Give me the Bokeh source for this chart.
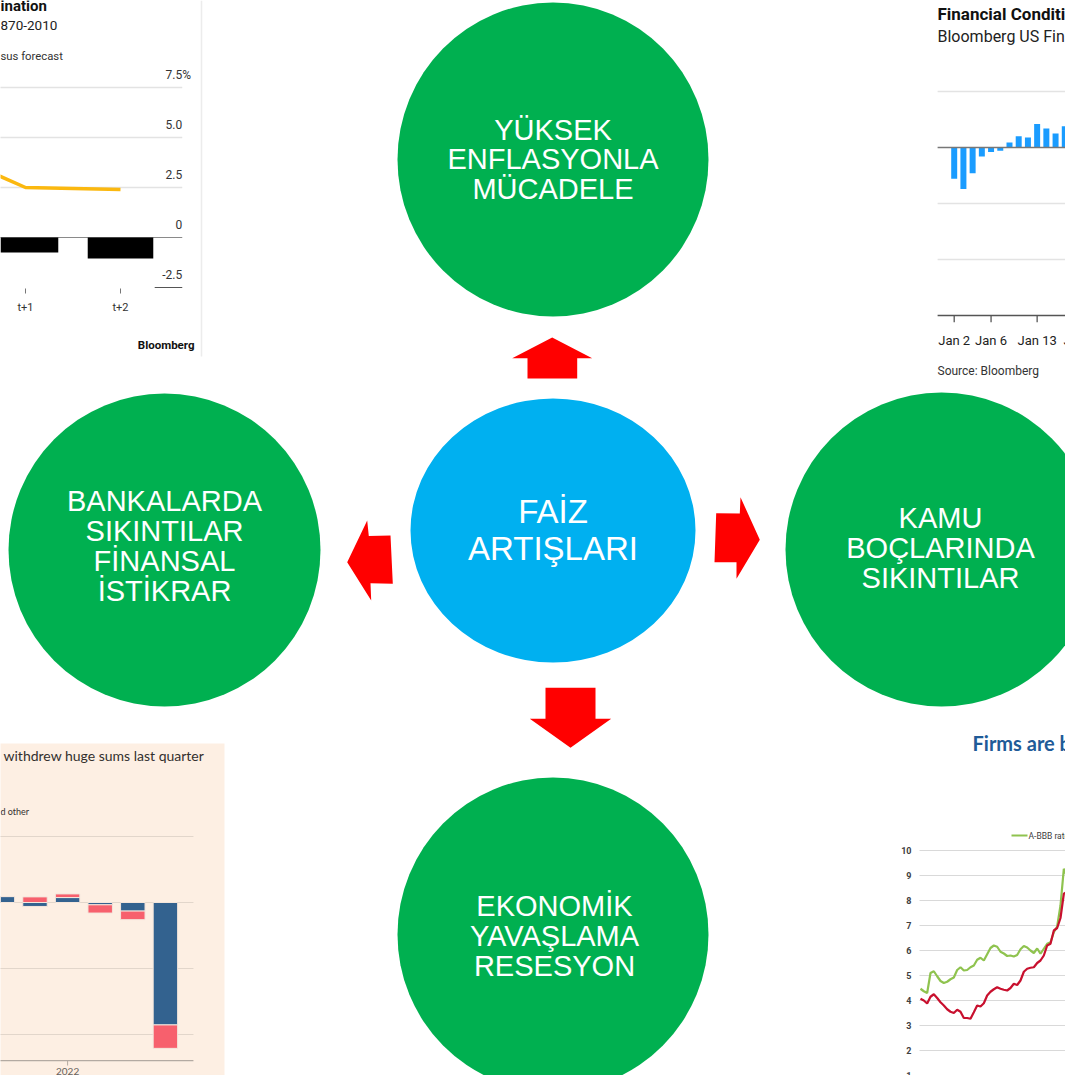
from bokeh.plotting import figure
from bokeh.models import Range1d
from bokeh.core.properties import value
from bokeh.embed import file_html
from bokeh.resources import INLINE

# ------------------------------------------------------------------ data
# top-left fragment (Bloomberg: inflation vs consensus forecast)
tl_periods = [0, 1, 2]
tl_period_labels = ["t", "t+1", "t+2"]
tl_forecast = [4.6, 2.5, 2.4]
tl_bar_periods = [1, 2]
tl_bar_values = [-0.75, -1.05]
tl_grid_values = [7.5, 5.0, 2.5]
tl_tick_values = [7.5, 5.0, 2.5, 0, -2.5]
tl_tick_labels = ["7.5", "5.0", "2.5", "0", "-2.5"]

# top-right fragment (Bloomberg US Financial Conditions)
tr_days = list(range(15))
tr_values = [-0.28, -0.37, -0.23, -0.08, -0.04, -0.03, 0.045, 0.10, 0.09,
             0.21, 0.17, 0.125, 0.19, 0.21, 0.27]
tr_tick_days = [0, 4, 9, 14]
tr_tick_labels = ["Jan 2", "Jan 6", "Jan 13", "Jan 20"]
tr_grid_values = [0.5, -0.5, -1.0]

# bottom-left fragment (FT deposits)
bl_quarters = [0, 1, 2, 3, 4, 5]
bl_domestic = [18, -12, 15, -7, -26, -371]
bl_foreign = [0, 17, 11, -25, -26, -71]
bl_grid_values = [200, 0, -200, -400]
bl_tick_quarters = [2]
bl_tick_labels = ["2022"]

# bottom-right fragment (corporate bond yields)
br_months = list(range(49))
br_green = [4.47, 4.37, 4.30, 5.10, 5.17, 4.97, 4.78, 4.70, 4.75, 4.85,
            4.92, 5.22, 5.33, 5.20, 5.22, 5.33, 5.40, 5.63, 5.71, 5.60,
            5.85, 6.10, 6.20, 6.15, 5.95, 5.88, 5.78, 5.80, 5.76, 5.82,
            6.05, 6.18, 6.12, 6.00, 5.90, 6.08, 5.87, 6.07, 6.27, 6.33,
            6.73, 6.96, 7.80, 9.27, 8.95, 8.40, 7.90, 8.56, 7.60]
br_red = [4.07, 4.00, 3.88, 4.15, 4.25, 4.10, 3.93, 3.80, 3.65, 3.55,
          3.50, 3.63, 3.55, 3.30, 3.30, 3.27, 3.53, 3.80, 3.76, 3.89,
          4.20, 4.35, 4.45, 4.53, 4.47, 4.43, 4.40, 4.50, 4.67, 4.62,
          4.80, 5.15, 5.27, 5.31, 5.33, 5.50, 5.60, 5.80, 6.20, 6.27,
          6.80, 6.90, 7.30, 8.27, 8.35, 8.10, 7.75, 8.33, 7.50]
br_tick_values = [10, 9, 8, 7, 6, 5, 4, 3, 2, 1]

# diagram
center_lines = ["FAİZ", "ARTIŞLARI"]
top_lines = ["YÜKSEK", "ENFLASYONLA", "MÜCADELE"]
left_lines = ["BANKALARDA", "SIKINTILAR", "FİNANSAL", "İSTİKRAR"]
right_lines = ["KAMU", "BOÇLARINDA", "SIKINTILAR"]
bottom_lines = ["EKONOMİK", "YAVAŞLAMA", "RESESYON"]

# ------------------------------------------------------------------ figure
W, H = 1065, 1075
PX0, PX1 = 0, W          # reference-pixel extent of the frame (x)
PY_TOP, PY_BOT = 0, H    # reference-pixel extent of the frame (y)

p = figure(width=W, height=H, output_backend="svg", toolbar_location=None,
           x_range=Range1d(PX0, PX1), y_range=Range1d(PY_BOT, PY_TOP),
           x_axis_location=None, y_axis_location=None, min_border=0,
           outline_line_color=None, background_fill_color="white",
           border_fill_color="white")
p.grid.visible = False


def xr(v0, p0, v1, p1):
    b = (p1 - p0) / (v1 - v0)
    return Range1d(start=v0 + (PX0 - p0) / b, end=v0 + (PX1 - p0) / b)


def yr(v0, p0, v1, p1):
    b = (p1 - p0) / (v1 - v0)
    return Range1d(start=v0 + (PY_BOT - p0) / b, end=v0 + (PY_TOP - p0) / b)


SANS = value("Liberation Sans")
ROB = value("Roboto")

# ================================================= top-left (Bloomberg)
p.extra_x_ranges["tlx"] = xr(1, 25, 2, 120)
p.extra_y_ranges["tly"] = yr(0, 237, 7.5, 87)
TL = dict(x_range_name="tlx", y_range_name="tly")
tl_right = 2.65
p.segment(x0=[-1.5] * 3, x1=[tl_right] * 3, y0=tl_grid_values, y1=tl_grid_values,
          line_color="#e3e3e3", line_width=1.5, **TL)
p.segment(x0=[-1.5], x1=[tl_right], y0=[0], y1=[0], line_color="#8a8a8a", line_width=1.2, **TL)
p.segment(x0=[2.36], x1=[tl_right], y0=[-2.5], y1=[-2.5], line_color="#555555", line_width=1.2, **TL)
p.vbar(x=tl_bar_periods, top=[0, 0], bottom=tl_bar_values, width=0.69,
       fill_color="black", line_color=None, **TL)
p.line(x=tl_periods, y=tl_forecast, line_color="#fbb80f", line_width=3.5, **TL)
p.text(x=[tl_right] * 5, y=tl_tick_values, text=tl_tick_labels, text_align="right",
       text_baseline="middle", y_offset=-13, text_font=ROB, text_font_size="12px",
       text_color="#333333", **TL)
p.text(x=[tl_right], y=[7.5], text=["%"], text_align="left", text_baseline="middle",
       y_offset=-13, text_font=ROB, text_font_size="12px", text_color="#333333", **TL)
p.segment(x0=tl_periods[1:], x1=tl_periods[1:], y0=[-2.55] * 2, y1=[-2.8] * 2,
          line_color="#777777", line_width=1, **TL)
p.text(x=tl_periods[1:], y=[-3.5] * 2, text=tl_period_labels[1:], text_align="center",
       text_baseline="middle", text_font=ROB, text_font_size="11px", text_color="#333333", **TL)
# panel texts
p.text(x=[0], y=[5], text=["ination"], text_font=ROB, text_font_style="bold",
       text_font_size="15px", text_baseline="middle", text_color="#111111")
p.text(x=[0], y=[25], text=["870-2010"], text_font=ROB, text_font_size="13.5px",
       text_baseline="middle", text_color="#222222")
p.text(x=[0], y=[56], text=["sus forecast"], text_font=ROB, text_font_size="11.3px",
       text_baseline="middle", text_color="#333333")
p.text(x=[194], y=[344], text=["Bloomberg"], text_font=ROB, text_font_style="bold",
       text_font_size="11.5px", text_align="right", text_baseline="middle", text_color="#111111")
p.segment(x0=[201], x1=[201], y0=[0], y1=[356], line_color="#ececec", line_width=1.5)

# ================================================= top-right (Bloomberg FCI)
p.extra_x_ranges["trx"] = xr(0, 953.7, 13, 1073.5)
p.extra_y_ranges["try"] = yr(0, 147, 0.5, 91)
TR = dict(x_range_name="trx", y_range_name="try")
tr_l, tr_r = -1.8, 16
p.segment(x0=[tr_l] * 3, x1=[tr_r] * 3, y0=tr_grid_values, y1=tr_grid_values,
          line_color="#e3e3e3", line_width=1.5, **TR)
p.segment(x0=[tr_l], x1=[tr_r], y0=[-1.5], y1=[-1.5], line_color="#555555", line_width=1.5, **TR)
p.vbar(x=tr_days, top=tr_values, bottom=0, width=0.65, fill_color="#1a9cff",
       line_color=None, **TR)
p.segment(x0=[tr_l], x1=[tr_r], y0=[0], y1=[0], line_color="#777777", line_width=1.3, **TR)
p.segment(x0=tr_tick_days, x1=tr_tick_days, y0=[-1.5] * 4, y1=[-1.56] * 4,
          line_color="#555555", line_width=1.3, **TR)
p.text(x=tr_tick_days, y=[-1.5] * 4, y_offset=25, text=tr_tick_labels, text_align="center",
       text_baseline="middle", text_font=ROB, text_font_size="13px", text_color="#222222", **TR)
p.text(x=[937], y=[13], text=["Financial Conditions"], text_font=ROB, text_font_style="bold",
       text_font_size="17px", text_baseline="middle", text_color="#111111")
p.text(x=[937], y=[36], text=["Bloomberg US Financial"], text_font=ROB,
       text_font_size="16px", text_baseline="middle", text_color="#222222")
p.text(x=[937], y=[370], text=["Source: Bloomberg"], text_font=ROB,
       text_font_size="12px", text_baseline="middle", text_color="#333333")

# ================================================= bottom-left (FT)
p.quad(left=[-2], right=[224], top=[743], bottom=[1095], fill_color="#fdefe3", line_color=None)
p.extra_x_ranges["blx"] = xr(0, 1.9, 5, 164.9)
p.extra_y_ranges["bly"] = yr(0, 902, 200, 836)
BL = dict(x_range_name="blx", y_range_name="bly")
bl_l, bl_r = -1, 5.86
p.segment(x0=[bl_l] * 4, x1=[bl_r] * 4, y0=bl_grid_values, y1=bl_grid_values,
          line_color="#e2d6cb", line_width=1.2, **BL)
p.segment(x0=[bl_l], x1=[bl_r], y0=[-479], y1=[-479], line_color="#b3aaa2", line_width=1.2, **BL)
dom_top, dom_bot, for_top, for_bot = [], [], [], []
for d, f in zip(bl_domestic, bl_foreign):
    dom_top.append(max(d, 0)); dom_bot.append(min(d, 0))
    base = max(d, 0) if f >= 0 else min(d, 0)
    for_top.append(max(base, base + f)); for_bot.append(min(base, base + f))
p.vbar(x=bl_quarters, top=dom_top, bottom=dom_bot, width=0.75, fill_color="#33628f",
       line_color="#f4e6dc", line_width=1, **BL)
p.vbar(x=bl_quarters, top=for_top, bottom=for_bot, width=0.75, fill_color="#f7606d",
       line_color="#f4e6dc", line_width=1, **BL)
p.segment(x0=bl_tick_quarters, x1=bl_tick_quarters, y0=[-479], y1=[-494],
          line_color="#b3aaa2", line_width=1, **BL)
p.text(x=bl_tick_quarters, y=[-479], y_offset=11, text=bl_tick_labels, text_align="center",
       text_baseline="middle", text_font=value("Lato"), text_font_size="10px",
       text_color="#66605c", **BL)
p.text(x=[3], y=[755], text=["withdrew huge sums last quarter"], text_font=value("Lato"),
       text_font_size="14px", text_baseline="middle", text_color="#33302e")
p.text(x=[0], y=[811], text=["d other"], text_font=value("Lato"),
       text_font_size="9px", text_baseline="middle", text_color="#33302e")

# ================================================= bottom-right (yields)
p.extra_x_ranges["brx"] = xr(0, 920, 48, 1080)
p.extra_y_ranges["bry"] = yr(1, 1075, 10, 850)
BR = dict(x_range_name="brx", y_range_name="bry")
p.segment(x0=[-0.3] * 10, x1=[60] * 10, y0=br_tick_values, y1=br_tick_values,
          line_color="#d9d9d9", line_width=1.2, **BR)
p.text(x=[-0.3] * 10, y=br_tick_values, x_offset=-8, text=[str(v) for v in br_tick_values],
       text_align="right", text_baseline="middle", text_font=ROB, text_font_style="bold",
       text_font_size="9px", text_color="#404040", **BR)
p.line(x=br_months, y=br_green, line_color="#8fc34f", line_width=2.2, **BR)
p.line(x=br_months, y=br_red, line_color="#c8102e", line_width=2.2, **BR)
p.segment(x0=[1011], x1=[1027], y0=[835], y1=[835], line_color="#8fc34f", line_width=2)
p.text(x=[1028], y=[835], text=["A-BBB rated US"], text_font=ROB, text_font_size="8.5px",
       text_baseline="middle", text_color="#404040")
p.text(x=[972], y=[742], text=["Firms are buying"], text_font=value("Lato"),
       text_font_style="bold", text_font_size="20px", text_baseline="middle",
       text_color="#1f5b98")

# ================================================= diagram
GREEN, BLUE, RED = "#00b050", "#00b0f0", "#ff0000"
p.ellipse(x=[552.5, 164, 941, 552.5], y=[159, 549.5, 549, 934],
          width=[311, 312, 312, 311], height=[314, 313, 314, 314],
          fill_color=GREEN, line_color=None)
p.ellipse(x=[552.5], y=[530], width=[285], height=[264], fill_color=BLUE, line_color=None)

arrows_x = [
    [551.7, 591.7, 576.7, 576.7, 527, 527, 511.7],
    [346.7, 366.7, 368.3, 390, 392.3, 370, 370.7],
    [759.3, 736, 736, 714, 715.7, 739.3, 740],
    [570, 529.3, 545, 545, 595, 595, 610.7],
]
arrows_y = [
    [337, 357.7, 357.7, 378, 378, 357.7, 357.7],
    [561.7, 520, 535.5, 535, 583.3, 582.7, 600],
    [539.3, 578.3, 561.7, 561.7, 512.7, 513, 496.7],
    [747.3, 718.3, 718.3, 687.3, 687.3, 718.3, 718.3],
]
p.patches(xs=arrows_x, ys=arrows_y, fill_color=RED, line_color=None)


def label(lines, cx, ys, size):
    p.text(x=[cx] * len(lines), y=ys, text=lines, text_align="center",
           text_baseline="middle", text_font=SANS, text_font_size=size,
           text_color="white")


label(center_lines, 552.5, [511, 548], "33px")
label(top_lines, 552.5, [129, 158.5, 188], "29px")
label(left_lines, 164, [500, 530, 560, 590], "29px")
label(right_lines, 940, [517, 547, 577], "29px")
label(bottom_lines, 554, [905, 935, 965], "29px")

open("out.html", "w").write(file_html(p, INLINE))
